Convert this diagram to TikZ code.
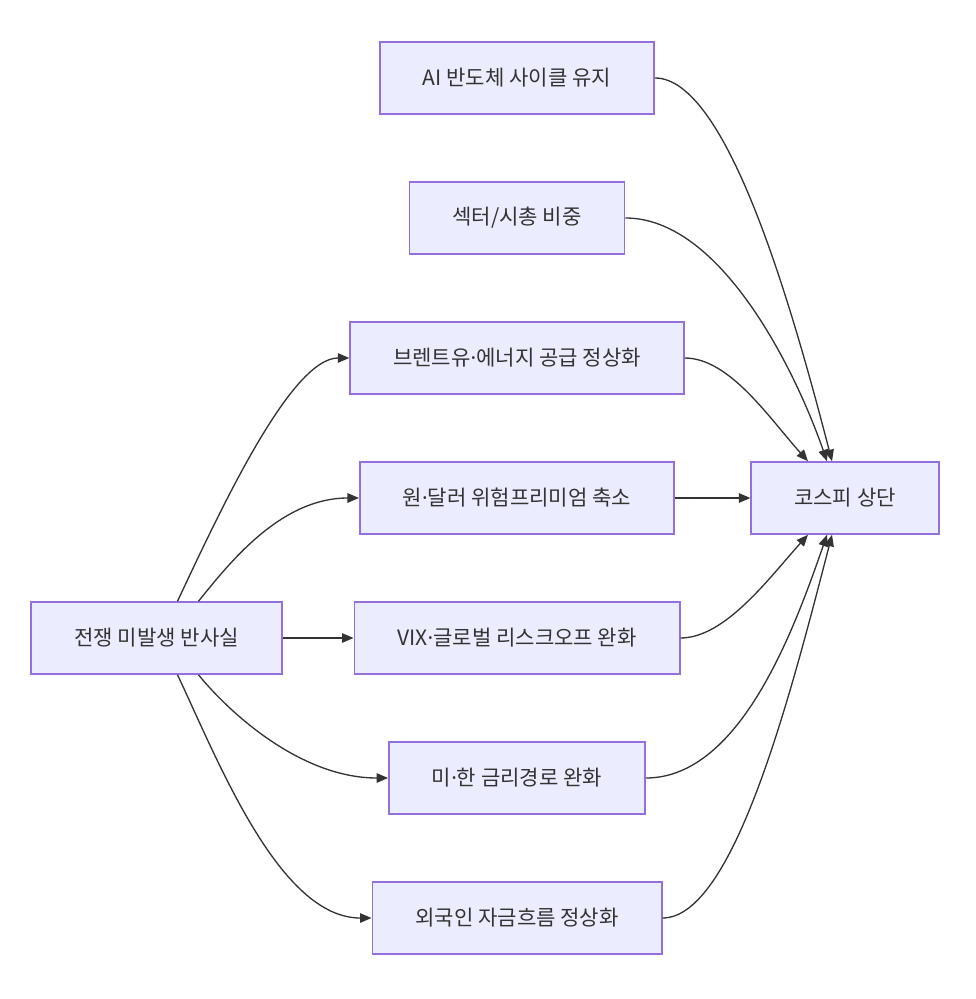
\documentclass[tikz,border=0pt]{standalone}
\usepackage{fontspec}
\setmainfont{Noto Sans CJK KR}
\newfontfamily\dotfont{Noto Sans}
\newcommand\mdot{{\dotfont ·}}
\usetikzlibrary{arrows.meta,calc}
\definecolor{boxfill}{HTML}{ECECFF}
\definecolor{boxline}{HTML}{9370DB}
\definecolor{linkcol}{HTML}{333333}
\tikzset{
	box/.style={draw=boxline, fill=boxfill, line width=0.9pt, minimum height=1.44cm, inner xsep=0.86cm, text=linkcol, font=\fontsize{12}{14}\selectfont},
	link/.style={draw=linkcol, line width=0.75pt, -{Triangle[length=2.3mm,width=1.9mm]}}
}
\begin{document}
\begin{tikzpicture}[x=0.02cm,y=-0.02cm]
	\useasboundingbox (0,0) rectangle (975,999);%Rahmen

	\node[box] (ai) at (517,78) {AI 반도체 사이클 유지};
	\node[box] (sector) at (517,218) {섹터/시총 비중};
	\node[box] (brent) at (517,358) {브렌트유\mdot 에너지 공급 정상화};
	\node[box] (krw) at (517,498) {원\mdot 달러 위험프리미엄 축소};
	\node[box] (vix) at (517,638) {VIX\mdot 글로벌 리스크오프 완화};
	\node[box] (rate) at (517,778) {미\mdot 한 금리경로 완화};
	\node[box] (foreign) at (517,918) {외국인 자금흐름 정상화};
	\node[box] (war) at (156.5,638) {전쟁 미발생 반사실};
	\node[box] (kospi) at (845,498) {코스피 상단};

	\draw[link] ($(war.north)+(21,0)$) .. controls +(41,-87) and +(-59,0) .. (brent.west);%links oben
	\draw[link] ($(war.north)+(42,0)$) .. controls +(30,-37) and +(-79,0) .. (krw.west);
	\draw[link] (war.east) -- (vix.west);%Mitte
	\draw[link] ($(war.south)+(42,0)$) .. controls +(30,37) and +(-88,0) .. (rate.west);%links unten
	\draw[link] ($(war.south)+(21,0)$) .. controls +(41,87) and +(-92,0) .. (foreign.west);

	\draw[link] (ai.east) .. controls +(71,0) and +(-42,-162) .. ($(kospi.north)+(-13,0)$);%rechts oben
	\draw[link] (sector.east) .. controls +(95,0) and +(-32,-92) .. ($(kospi.north)+(-18,0)$);
	\draw[link] (brent.east) .. controls +(45,0) and +(-38,-42) .. ($(kospi.north)+(-37,0)$);
	\draw[link] (krw.east) -- (kospi.west);
	\draw[link] (vix.east) .. controls +(45,0) and +(-38,42) .. ($(kospi.south)+(-37,0)$);%rechts unten
	\draw[link] (rate.east) .. controls +(95,0) and +(-32,92) .. ($(kospi.south)+(-18,0)$);
	\draw[link] (foreign.east) .. controls +(71,0) and +(-42,162) .. ($(kospi.south)+(-13,0)$);
\end{tikzpicture}
\end{document}
